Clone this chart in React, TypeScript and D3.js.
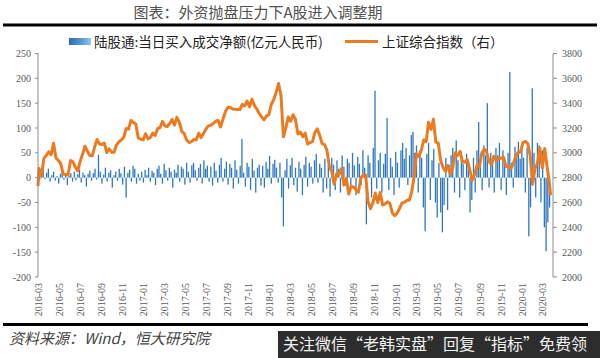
import React from "react";
import * as d3 from "d3";

const TITLE = "图表：外资抛盘压力下A股进入调整期";
const LEGEND_BAR = "陆股通:当日买入成交净额(亿元人民币)";
const LEGEND_LINE = "上证综合指数（右）";
const SOURCE = "资料来源：Wind，恒大研究院";
const WATERMARK = "关注微信“老韩实盘”回复“指标”免费领";

const leftTicks = [250, 200, 150, 100, 50, 0, -50, -100, -150, -200];
const rightTicks = [3800, 3600, 3400, 3200, 3000, 2800, 2600, 2400, 2200, 2000];
const xTickLabels = [
  "2016-03", "2016-05", "2016-07", "2016-09", "2016-11",
  "2017-01", "2017-03", "2017-05", "2017-07", "2017-09", "2017-11",
  "2018-01", "2018-03", "2018-05", "2018-07", "2018-09", "2018-11",
  "2019-01", "2019-03", "2019-05", "2019-07", "2019-09", "2019-11",
  "2020-01", "2020-03",
];

// Northbound net buying (亿元), sampled every 5 calendar days from 2016-03-01
const barStart = "2016-03-01";
const barStepDays = 5;
const northboundNet = [
  8, -5, 15, 22, -3, 10, 18, -8, 5, 12,
  -6, 3, -12, 8, 14, -4, 6, -15, 4, 9,
  -8, 12, -5, 7, 16, -10, 10, 5, -18, 8,
  14, -6, 9, 18, -4, 46, 12, -12, 6, 20,
  -8, 10, 15, -20, 5, 12, -6, 18, 9, -14,
  22, -40, 10, 16, -8, 24, 18, -12, 8, -6,
  12, -10, 16, 5, 20, -8, 14, 10, -15, 18,
  24, 8, -12, 28, 15, -6, 20, 12, -20, 16,
  10, 26, -8, 22, 18, -14, 30, 12, -10, 25,
  30, 15, -6, 20, 28, -12, 35, 18, 24, -8,
  22, -16, 30, 14, -10, 26, 40, -8, 18, 32,
  -14, 28, 20, -22, 35, 16, -12, 24, 78, 10,
  -18, 30, 22, -25, 38, 14, -30, 20, 26, -16,
  24, -20, 32, 18, 44, -12, 28, 36, 20, -10,
  30, -40, -98, 15, 38, -22, 25, 40, -15, 20,
  -28, 32, 18, -35, 26, 42, -18, 30, 22, -12,
  35, 48, -10, 28, 20, -30, 38, -22, 25, -38,
  40, 26, -25, 35, 18, -30, 45, 22, -16, 38,
  30, -20, 50, 25, -35, 42, 28, -15, 55, 20,
  -94, 45, 30, -40, 60, 175, -22, 35, 50, -30,
  28, 48, 120, -25, 40, 22, -35, 52, 30, -20,
  55, 70, 38, 60, -15, 45, 86, 92, 50, 65,
  -30, 55, 40, -60, -108, 48, 70, -45, 35, 58,
  -50, -80, 30, -70, -110, -55, 40, -65, 25, 45,
  60, -30, 75, 35, -40, 52, 28, -25, 48, 30,
  -70, -45, 40, -30, 55, 112, 30, -25, 65, 45,
  150, -20, 50, 35, -30, 60, 45, 70, -25, 55,
  40, -35, 50, 213, 30, -20, 62, 45, 72, 38,
  55, 40, -30, 60, -118, -60, 180, 50, -40, 70,
  65, -50, 55, -100, -148, -90, -60,
];

// Shanghai Composite, weekly closes from 2016-03-04
const indexStart = "2016-03-04";
const indexFirst = { date: "2016-03-01", value: 2733 };
const indexLast = { date: "2020-03-23", value: 2660 };
const sseWeekly = [
  // 2016
  2874, 2810, 2955, 2979, 3009, 2985, 3078, 2959, 2938, 2913, 2827, 2826, 2822, 2938, 2927, 2885,
  2854, 2932, 2988, 3054, 3012, 2979, 2976, 3050, 3108, 3070, 3067, 3078, 3002, 3033, 3005, 3005,
  3063, 3090, 3104, 3125, 3196, 3192, 3261, 3244, 3232, 3122, 3110, 3104,
  // 2017
  3154, 3112, 3123, 3159, 3140, 3196, 3202, 3253, 3218, 3212, 3237, 3269, 3223, 3286, 3246, 3173,
  3155, 3103, 3083, 3090, 3107, 3105, 3158, 3123, 3157, 3192, 3217, 3222, 3237, 3253, 3262, 3208,
  3268, 3331, 3367, 3365, 3353, 3352, 3348, 3348, 3390, 3378, 3416, 3371, 3432, 3382, 3353, 3317,
  3289, 3266, 3297, 3307,
  // 2018
  3391, 3428, 3487, 3558, 3462, 3129, 3199, 3289, 3254, 3307, 3269, 3152, 3168, 3131, 3159, 3071,
  3082, 3091, 3163, 3193, 3141, 3075, 3067, 3021, 2889, 2847, 2747, 2831, 2829, 2873, 2740, 2795,
  2669, 2730, 2725, 2703, 2682, 2797, 2821, 2821, 2606, 2550, 2599, 2676, 2599, 2680, 2580, 2588,
  2605, 2594, 2516, 2494,
  // 2019
  2514, 2553, 2596, 2601, 2618, 2618, 2682, 2804, 2994, 2969, 3021, 3104, 3090, 3247, 3189, 3270,
  3086, 3078, 2939, 2882, 2852, 2898, 2827, 2882, 3001, 2979, 3012, 2930, 2924, 2944, 2868, 2775,
  2824, 2897, 2886, 2999, 3031, 3006, 2932, 2905, 2973, 2938, 2955, 2958, 2964, 2891, 2886, 2872,
  2912, 2968, 3005, 3005,
  // 2020
  3083, 3092, 3075, 2977, 2746, 2876, 2917, 3040, 2880, 3034, 2887, 2745,
];

const parse = d3.timeParse("%Y-%m-%d");
const parseMonth = d3.timeParse("%Y-%m");

const BLUE = "#2e78c0";
const ORANGE = "#ec7a1e";
const AXIS = "#8c8c8c";
const TICK_TEXT = "#595959";

export default function App() {
  const W = 600;
  const H = 358;
  const x = d3
    .scaleTime()
    .domain([parse("2016-03-01") as Date, parse("2020-03-30") as Date])
    .range([38, 553]);
  const yL = d3.scaleLinear().domain([-200, 250]).range([277, 53.5]);
  const yR = d3.scaleLinear().domain([2000, 3800]).range([277, 53.5]);

  const s0 = parse(barStart) as Date;
  const bars = northboundNet.map((v, i) => ({
    date: d3.timeDay.offset(s0, i * barStepDays),
    v,
  }));
  const i0 = parse(indexStart) as Date;
  const idx = [
    { date: parse(indexFirst.date) as Date, value: indexFirst.value },
    ...sseWeekly.map((v, i) => ({ date: d3.timeDay.offset(i0, 7 * i), value: v })),
    { date: parse(indexLast.date) as Date, value: indexLast.value },
  ];
  const line = d3
    .line<{ date: Date; value: number }>()
    .x((d) => x(d.date))
    .y((d) => yR(d.value));

  const bw = 1.3;
  const serif = "'Liberation Serif', 'DejaVu Serif', serif";
  const cjk = "'Noto Sans CJK SC', sans-serif";

  return (
    <svg
      width={W}
      height={H}
      style={{ position: "absolute", left: 0, top: 0, background: "#fff" }}
    >
      <defs>
        <linearGradient id="lgBlue" x1="0" x2="1" y1="0" y2="0">
          <stop offset="0" stopColor="#2a6fb5" />
          <stop offset="0.6" stopColor="#5b9bd5" />
          <stop offset="1" stopColor="#9cc3e6" />
        </linearGradient>
      </defs>
      <rect x={0} y={0} width={W} height={H} fill="#fff" />
      {/* Title */}
      <text x={258} y={18} textAnchor="middle" fontFamily={cjk} fontSize={15} fill="#505050">
        {TITLE}
      </text>
      <rect x={3} y={23.5} width={594} height={3} fill="#000" />

      {/* Legend */}
      <rect x={69} y={38} width={22} height={7} fill="url(#lgBlue)" />
      <text x={94} y={46.5} fontFamily={cjk} fontSize={13.5} fill="#222">
        {LEGEND_BAR}
      </text>
      <line x1={345} x2={378} y1={41.5} y2={41.5} stroke={ORANGE} strokeWidth={3} />
      <text x={382} y={46.5} fontFamily={cjk} fontSize={13.5} fill="#222">
        {LEGEND_LINE}
      </text>

      {/* Bars */}
      <g>
        {bars.map((b, i) => (
          <rect
            key={i}
            x={x(b.date) - bw / 2}
            y={Math.min(yL(b.v), yL(0))}
            width={bw}
            height={Math.abs(yL(b.v) - yL(0))}
            fill={BLUE}
          />
        ))}
      </g>

      {/* Index line */}
      <path
        d={line(idx) || ""}
        fill="none"
        stroke={ORANGE}
        strokeWidth={3}
        strokeLinejoin="round"
      />

      {/* Left axis */}
      <line x1={38} x2={38} y1={yL(250)} y2={yL(-200)} stroke={AXIS} strokeWidth={1} />
      {leftTicks.map((t) => (
        <g key={t}>
          <line x1={35} x2={38} y1={yL(t)} y2={yL(t)} stroke={AXIS} />
          <text
            x={31}
            y={yL(t)}
            dy="0.35em"
            textAnchor="end"
            fontFamily={serif}
            fontSize={10}
            fill={TICK_TEXT}
          >
            {t}
          </text>
        </g>
      ))}

      {/* Right axis */}
      <line x1={553} x2={553} y1={yR(3800)} y2={yR(2000)} stroke={AXIS} strokeWidth={1} />
      {rightTicks.map((t) => (
        <g key={t}>
          <line x1={553} x2={557} y1={yR(t)} y2={yR(t)} stroke={AXIS} />
          <text
            x={562}
            y={yR(t)}
            dy="0.35em"
            textAnchor="start"
            fontFamily={serif}
            fontSize={10}
            fill={TICK_TEXT}
          >
            {t}
          </text>
        </g>
      ))}

      {/* X labels */}
      {xTickLabels.map((l) => {
        const px = x(parseMonth(l) as Date);
        return (
          <text
            key={l}
            transform={`translate(${px},283) rotate(-90)`}
            dy="0.35em"
            textAnchor="end"
            fontFamily={serif}
            fontSize={10}
            fill={TICK_TEXT}
          >
            {l}
          </text>
        );
      })}

      {/* Footer */}
      <rect x={3} y={323} width={585} height={3} fill="#000" />
      <text x={9} y={344} fontFamily={cjk} fontStyle="italic" fontSize={15} fill="#444">
        {SOURCE}
      </text>
      <rect x={278} y={331} width={322} height={27} fill="#2d2d2d" />
      <text x={283} y={350} fontFamily={cjk} fontSize={16} fill="#f2f2f2">
        {WATERMARK}
      </text>
    </svg>
  );
}
